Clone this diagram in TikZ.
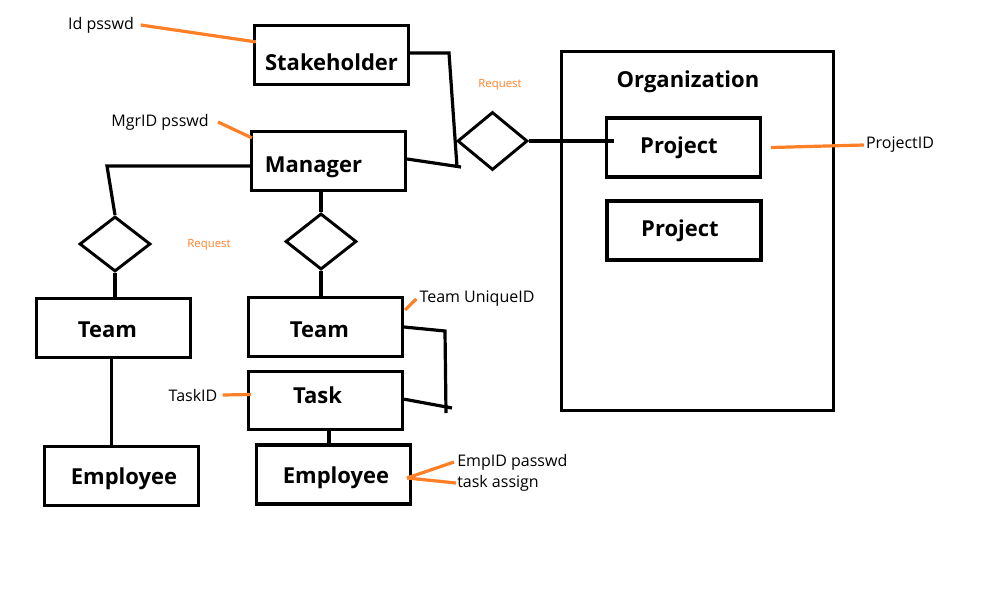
\documentclass[tikz,border=0pt]{standalone}
\usepackage{fontspec}
\setmainfont{Open Sans}
\usetikzlibrary{shapes.geometric,calc}
\definecolor{paintorange}{RGB}{255,127,39}

\begin{document}
\begin{tikzpicture}[x=0.75pt,y=-0.75pt,
  ent/.style={draw,line width=2.4pt,minimum width=115.5pt,minimum height=44.25pt,inner sep=0pt},
  entname/.style={font=\fontsize{16.5}{19}\selectfont\bfseries,inner sep=0pt},
  rel/.style={draw,diamond,line width=2.2pt,inner sep=0pt},
  attr/.style={font=\fontsize{12}{14}\selectfont,inner sep=0pt},
  note/.style={font=\fontsize{8.5}{10}\selectfont,text=paintorange,inner sep=0pt},
  conn/.style={line width=2.4pt},
  attrline/.style={paintorange,line width=2.4pt}]
\useasboundingbox (0,0) rectangle (986,593);

\node[ent] (sh) at (331.5,55) {};
\node[entname] (shtxt) at ($(sh)+(0,7)$) {Stakeholder};
\node[ent] (mgr) at (328.5,161) {};
\node[entname] (mgrtxt) at ($(mgr)+(-15,6)$) {Manager};

\node[ent,minimum width=204pt,minimum height=269.25pt] (org) at (697.5,231) {};
\node[entname] (orgtxt) at (688,82) {Organization};
\node[ent] (prj1) at (683.5,147.5) {};
\node[entname] (prj1txt) at ($(prj1)+(-4.5,0.5)$) {Project};
\node[ent] (prj2) at (684,230.5) {};
\node[entname] (prj2txt) at ($(prj2)+(-4,0.5)$) {Project};

\node[rel,minimum width=52.5pt,minimum height=43.5pt] (req) at (492.5,141) {};
\node[rel,minimum width=53.25pt,minimum height=41.25pt] (ldia) at (115,244) {};
\node[rel,minimum width=53.25pt,minimum height=42pt] (mdia) at (321,241.5) {};

\node[ent] (lteam) at (113.5,328) {};
\node[entname] (lteamtxt) at ($(lteam)+(-6,2)$) {Team};
\node[ent] (mteam) at (325.5,327) {};
\node[entname] (mteamtxt) at ($(mteam)+(-6,3)$) {Team};
\node[ent,minimum height=43.5pt] (task) at (325.5,400.5) {};
\node[entname] (tasktxt) at ($(task)+(-8,-5)$) {Task};
\node[ent] (lemp) at (121.5,476) {};
\node[entname] (lemptxt) at ($(lemp)+(2.5,3)$) {Employee};
\node[ent] (remp) at (333.5,474.5) {};
\node[entname] (remptxt) at ($(remp)+(2.5,3.5)$) {Employee};

\node[attr] (shattr) at (101,25) {Id psswd};
\node[attr] (mgrattr) at (160,122) {MgrID psswd};
\node[attr] (prjattr) at (900,145) {ProjectID};
\node[attr] (teamattr) at (477,299) {Team UniqueID};
\node[attr] (taskattr) at (193,395) {TaskID};
\node[attr,anchor=west] (empattr) at (457,462) {EmpID passwd};
\node[attr,anchor=west] (empattr2) at (457,483) {task assign};
\node[note] (req1) at (500,85) {Request};
\node[note] (req2) at (209,245) {Request};

\coordinate (shbend) at (449,53);
\coordinate (jn) at (457,167);
\draw[conn] ([yshift=1.5pt]sh.east) -- (shbend) -- (jn);
\draw[conn] ([yshift=1.5pt]mgr.east) -- ([xshift=3pt]jn);
\draw[conn] (req.east) -- ([xshift=7pt]prj1.west |- req.east);

\coordinate (lbend) at (107,166);
\draw[conn] ([yshift=-3.75pt]mgr.west) -- (lbend) -- (ldia.north);
\draw[conn] (ldia.south) -- (ldia.south |- lteam.north);
\draw[conn] ([xshift=-1.5pt]lteam.south) -- ([xshift=-1.5pt]lteam.south |- lemp.north);

\draw[conn] (mdia.north |- mgr.south) -- (mdia.north);
\draw[conn] (mdia.south) -- (mdia.south |- mteam.north);

\coordinate (tbend) at (445,331);
\coordinate (tend) at (446,413);
\coordinate (ttick) at (452,408);
\draw[conn] (mteam.east) -- (tbend) -- (tend);
\draw[conn] ([yshift=1pt]task.east) -- (ttick);
\draw[conn] ([xshift=2.6pt]task.south) -- ([xshift=2.6pt]task.south |- remp.north);

\draw[attrline] ([xshift=5pt]shattr.east) -- ([xshift=2.25pt,yshift=-13.5pt]sh.north west);
\draw[attrline] ([xshift=6.75pt]mgrattr.east) -- ([xshift=1.5pt,yshift=-6pt]mgr.north west);
\draw[attrline] ([xshift=6.75pt]prj1.east) -- ([xshift=-1.5pt]prjattr.west);
\draw[attrline] ([xshift=-2.25pt]teamattr.west) -- ([xshift=0.75pt,yshift=-10.5pt]mteam.north east);
\draw[attrline] ([xshift=3.75pt]taskattr.east) -- ([xshift=3pt,yshift=4.5pt]task.west);
\coordinate (empjoin) at ([xshift=-3.75pt,yshift=-2.6pt]remp.east);
\draw[attrline] (empjoin) -- ([xshift=-2.25pt]empattr.west);
\draw[attrline] (empjoin) -- ([xshift=-0.75pt]empattr2.west);
\end{tikzpicture}
\end{document}
